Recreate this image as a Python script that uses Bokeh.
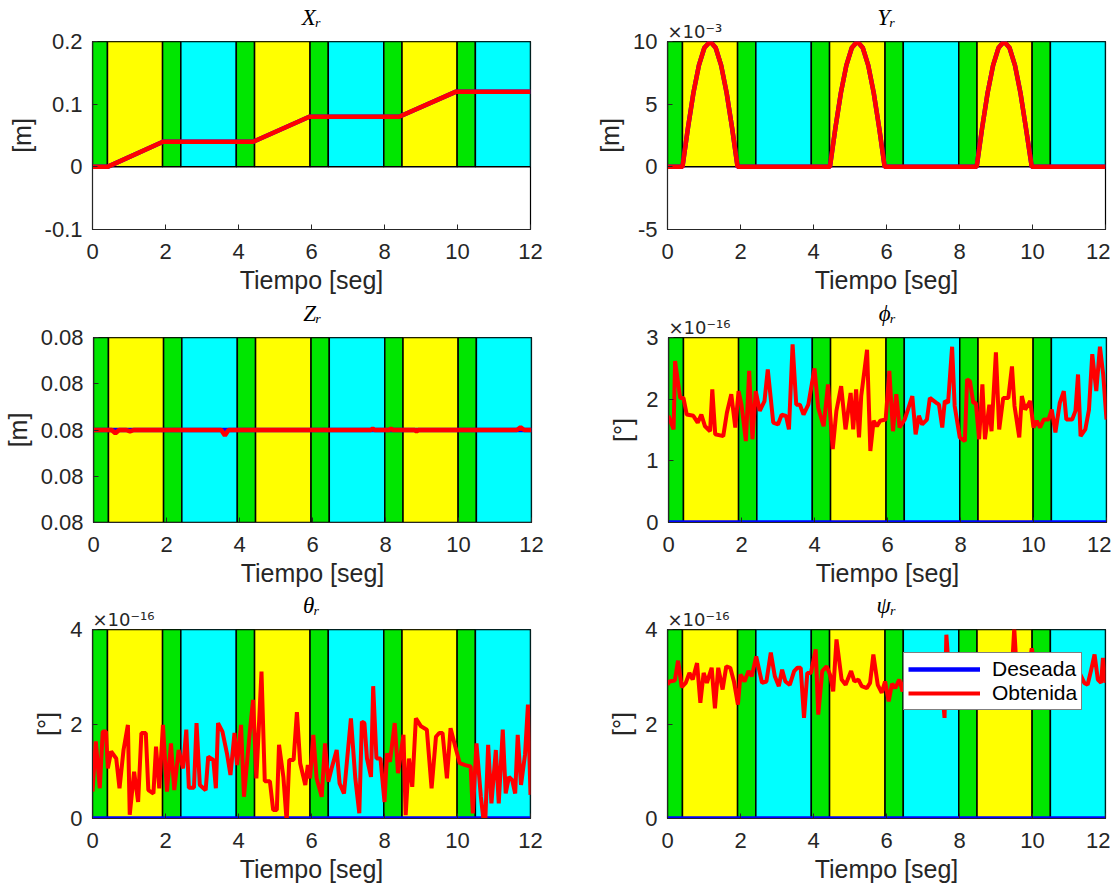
from bokeh.plotting import figure
from bokeh.layouts import column, row
from bokeh.models import Range1d, FixedTicker, Title, CustomJSTickFormatter
from bokeh.embed import file_html
from bokeh.resources import INLINE

# ---------------- data ----------------
band_edges = [0.0, 0.41, 1.92, 2.42, 3.94, 4.44, 5.96, 6.46, 7.98, 8.48, 9.99, 10.49, 12.0]
band_phase = ["g", "y", "g", "c", "g", "y", "g", "c", "g", "y", "g", "c"]
phase_color = {"g": "#00e600", "y": "#ffff00", "c": "#00ffff"}

des_t = [0.0, 12.0]
des_zero = [0.0, 0.0]

xr_t = [0.0, 0.41, 1.93, 4.40, 5.94, 8.40, 9.96, 12.0]
xr_v = [0.0, 0.0, 0.04, 0.04, 0.08, 0.08, 0.12, 0.12]

# Y_r in units of 1e-3 m
yr_t = [0.0, 0.41, 0.56, 0.71, 0.86, 1.01, 1.17, 1.32, 1.47, 1.62, 1.77, 1.92,
        4.45, 4.60, 4.75, 4.90, 5.05, 5.20, 5.35, 5.50, 5.65, 5.80, 5.95,
        8.47, 8.62, 8.77, 8.92, 9.07, 9.22, 9.37, 9.52, 9.67, 9.82, 9.98, 12.0]
yr_v = [0, 0, 3.1, 5.9, 8.1, 9.5, 10, 9.5, 8.1, 5.9, 3.1, 0,
        0, 3.1, 5.9, 8.1, 9.5, 10, 9.5, 8.1, 5.9, 3.1, 0,
        0, 3.1, 5.9, 8.1, 9.5, 10, 9.5, 8.1, 5.9, 3.1, 0, 0]

# Z_r deviation around 0.08 m, in tick steps
zr_t = [0, 0.5, 0.6, 0.7, 0.9, 1.0, 1.1, 3.5, 3.6, 3.7, 7.6, 7.65, 7.7, 8.1, 8.15, 8.2,
        8.8, 8.85, 8.9, 11.6, 11.7, 11.8, 12]
zr_v = [0, 0, -0.07, 0, 0, -0.03, 0, 0, -0.12, 0, 0, 0.03, 0, 0, 0.03, 0,
        0, -0.03, 0, 0, 0.06, 0, 0]

# phi_r in units of 1e-16 deg
phi_t = [0.0, 0.14, 0.18, 0.32, 0.41, 0.50, 0.68, 0.80, 0.90, 1.00, 1.14, 1.20, 1.28, 1.50, 1.60,
         1.72, 1.83, 1.92, 2.00, 2.12, 2.21, 2.30, 2.39, 2.50, 2.63, 2.72, 2.87, 3.00, 3.10, 3.22,
         3.30, 3.40, 3.50, 3.60, 3.70, 3.83, 4.00, 4.10, 4.25, 4.37, 4.50, 4.60, 4.73, 4.85, 4.99,
         5.06, 5.14, 5.22, 5.28, 5.44, 5.53, 5.62, 5.71, 5.80, 5.95, 6.05, 6.15, 6.24, 6.33, 6.47,
         6.68, 6.77, 6.86, 6.95, 7.08, 7.16, 7.34, 7.41, 7.50, 7.57, 7.66, 7.77, 7.84, 7.98, 8.12,
         8.18, 8.26, 8.35, 8.42, 8.51, 8.60, 8.67, 8.79, 8.85, 8.97, 9.06, 9.17, 9.31, 9.41, 9.48,
         9.61, 9.68, 9.77, 9.91, 10.00, 10.09, 10.18, 10.28, 10.41, 10.50, 10.60, 10.72, 10.83,
         10.90, 11.06, 11.15, 11.22, 11.29, 11.42, 11.52, 11.61, 11.72, 11.82, 11.91, 12.0]
phi_v = [1.73, 1.51, 2.62, 2.02, 2.02, 1.75, 1.73, 1.62, 1.75, 1.56, 1.48, 2.16, 1.43, 1.40, 1.78,
         2.08, 1.54, 2.13, 1.91, 1.32, 2.46, 1.35, 2.13, 1.81, 1.97, 2.48, 1.62, 1.59, 1.75, 1.73,
         1.51, 2.89, 1.91, 1.91, 1.75, 1.91, 2.50, 1.86, 1.56, 2.24, 1.19, 1.81, 2.21, 1.51, 2.10,
         1.51, 2.16, 1.38, 2.05, 2.80, 1.16, 1.65, 1.56, 1.65, 1.67, 2.46, 1.48, 2.08, 1.54, 1.67,
         2.05, 1.43, 1.73, 1.59, 1.67, 2.02, 1.94, 1.91, 1.54, 1.97, 1.94, 2.85, 1.89, 1.38, 1.32,
         2.32, 2.29, 1.94, 1.94, 1.35, 2.24, 1.35, 1.91, 1.48, 2.76, 1.51, 2.02, 2.02, 2.53, 1.89,
         1.38, 2.05, 1.83, 1.97, 1.54, 1.65, 1.54, 1.67, 1.67, 1.83, 1.46, 1.94, 2.13,
         1.67, 1.67, 1.81, 2.40, 1.40, 1.51, 1.83, 2.73, 2.13, 2.85, 2.40, 1.67]

# theta_r in units of 1e-16 deg
theta_t = [0.0, 0.09, 0.20, 0.28, 0.37, 0.42, 0.51, 0.65, 0.74, 0.85, 0.97, 1.02, 1.14, 1.25, 1.34,
           1.46, 1.53, 1.67, 1.74, 1.83, 1.93, 2.04, 2.15, 2.24, 2.36, 2.48, 2.57, 2.64, 2.78, 2.85,
           2.94, 3.10, 3.17, 3.31, 3.38, 3.44, 3.56, 3.69, 3.78, 3.89, 3.96, 4.07, 4.15, 4.31, 4.40,
           4.49, 4.63, 4.72, 4.86, 4.95, 5.05, 5.11, 5.23, 5.32, 5.39, 5.51, 5.60, 5.69, 5.83, 5.90,
           5.96, 6.05, 6.14, 6.28, 6.37, 6.46, 6.55, 6.69, 6.77, 6.89, 7.08, 7.20, 7.31, 7.38, 7.45,
           7.52, 7.63, 7.69, 7.78, 7.89, 8.00, 8.07, 8.15, 8.28, 8.37, 8.52, 8.58, 8.67, 8.76, 8.86,
           9.00, 9.16, 9.29, 9.41, 9.50, 9.59, 9.71, 9.81, 9.94, 10.06, 10.21, 10.36, 10.42, 10.52,
           10.64, 10.75, 10.84, 10.93, 11.05, 11.13, 11.24, 11.32, 11.41, 11.50, 11.58, 11.65, 11.74,
           11.85, 11.93, 12.0]
theta_v = [0.57, 1.63, 0.64, 1.84, 1.84, 1.06, 1.42, 1.27, 0.64, 1.45, 1.98, 0.08, 0.99, 0.35, 1.81,
           1.81, 0.60, 0.53, 1.52, 0.64, 1.98, 0.57, 1.59, 0.60, 1.45, 1.06, 1.88, 0.65, 0.65, 2.02,
           0.71, 0.60, 1.31, 1.24, 0.64, 2.02, 1.84, 1.35, 0.92, 1.81, 1.13, 1.98, 0.46, 1.84, 2.51,
           0.85, 3.11, 0.79, 0.79, 0.18, 0.18, 1.56, 0.88, -0.07, 1.24, 1.24, 2.25, 1.17, 0.71, 1.13,
           0.85, 1.77, 0.85, 0.46, 1.59, 0.78, 1.06, 1.45, 0.74, 0.53, 2.12, 0.85, 0.11, 2.05, 2.02,
           1.27, 0.88, 2.80, 1.27, 1.27, 0.35, 1.38, 1.20, 2.02, 0.96, 1.77, 0.07, 1.27, 0.67, 2.12,
           1.95, 1.88, 0.64, 1.73, 1.81, 1.81, 0.85, 1.91, 1.52, 1.17, 1.13, 1.10, 0.11, 1.59,
           0.46, -0.28, 1.56, 0.32, 1.45, 0.32, 1.88, 0.53, 0.88, 0.81, 0.53, 1.77, 0.71,
           1.35, 2.41, 0.50]

# psi_r in units of 1e-16 deg
psi_t = [0.0, 0.05, 0.20, 0.29, 0.39, 0.50, 0.60, 0.69, 0.81, 0.90, 0.99, 1.08, 1.21, 1.30, 1.39,
         1.51, 1.61, 1.72, 1.82, 1.93, 2.00, 2.11, 2.22, 2.31, 2.43, 2.59, 2.71, 2.83, 2.94, 3.05,
         3.14, 3.23, 3.35, 3.47, 3.56, 3.65, 3.74, 3.83, 3.93, 4.06, 4.13, 4.24, 4.36, 4.45, 4.54,
         4.63, 4.77, 4.88, 5.03, 5.12, 5.23, 5.32, 5.46, 5.55, 5.64, 5.76, 5.87, 5.96, 6.06, 6.15,
         6.24, 6.35, 6.44, 6.53, 6.62, 6.72, 6.81, 6.90, 7.00, 7.10, 7.20, 7.30, 7.40, 7.50, 7.59,
         7.64, 7.72, 7.82, 7.92, 8.02, 8.12, 8.22, 8.32, 8.42, 8.52, 8.62, 8.72, 8.82, 8.92, 9.02,
         9.12, 9.22, 9.32, 9.42, 9.50, 9.58, 9.68, 9.78, 9.88, 9.98, 10.08, 10.18, 10.28, 10.38,
         10.48, 10.58, 10.68, 10.78, 10.88, 10.98, 11.08, 11.18, 11.28, 11.42, 11.51, 11.60, 11.70,
         11.79, 11.88, 11.93, 12.0]
psi_v = [2.83, 2.90, 2.92, 3.34, 2.78, 2.87, 3.08, 2.94, 3.29, 2.45, 3.08, 2.87, 3.19, 2.33, 3.19,
         2.73, 3.22, 3.19, 2.90, 2.41, 3.05, 2.90, 3.12, 3.01, 3.43, 2.87, 2.90, 3.51, 3.01, 2.80,
         3.15, 2.90, 2.83, 3.12, 3.19, 3.19, 2.13, 3.08, 3.08, 3.58, 2.20, 3.12, 3.22, 3.05, 2.69,
         3.79, 2.94, 2.83, 3.12, 2.90, 2.94, 2.80, 2.76, 2.87, 3.47, 2.83, 2.66, 2.90, 2.48, 2.85,
         2.76, 2.94, 2.69, 3.05, 2.85, 3.10, 2.95, 3.15, 2.90, 3.05, 2.80, 3.10, 2.95, 3.00, 2.13,
         3.89, 3.00, 2.90, 3.10, 2.85, 3.05, 2.95, 3.15, 2.90, 3.00, 2.80, 3.10, 2.95, 3.05, 2.90,
         3.20, 2.95, 3.00, 2.90, 4.03, 2.95, 3.10, 2.85, 3.05, 3.60, 3.15, 2.90, 3.00, 2.85,
         3.10, 2.95, 3.05, 2.90, 3.10, 2.95, 3.05, 2.85, 3.10, 2.87, 2.83, 3.12, 3.47,
         2.94, 2.87, 3.40, 2.87]

x_ticks = [0, 2, 4, 6, 8, 10, 12]

# ---------------- layout params ----------------
FW = 438
COL = {0: dict(min_border_left=92, min_border_right=20),
       1: dict(min_border_left=117, min_border_right=5)}
ROW = {0: dict(min_border_top=41, min_border_bottom=72, frame_height=188),
       1: dict(min_border_top=36, min_border_bottom=71, frame_height=185),
       2: dict(min_border_top=36, min_border_bottom=69, frame_height=189)}

TICK_COLOR = "#262626"


def panel(title, ylabel, yrange, yticks, band_lo, band_hi, c, r, exponent=None, zfmt=False):
    p = figure(frame_width=FW, x_range=Range1d(0, 12), y_range=Range1d(*yrange),
               output_backend="svg", toolbar_location=None, title=None,
               background_fill_color="white", border_fill_color="white",
               **COL[c], **ROW[r])
    p.quad(left=band_edges[:-1], right=band_edges[1:], bottom=band_lo, top=band_hi,
           fill_color=[phase_color[k] for k in band_phase], line_color="black", line_width=1.5)
    p.xgrid.visible = False
    p.ygrid.visible = False
    p.outline_line_color = "black"
    p.outline_line_width = 1.2
    p.outline_line_alpha = 1

    # exponent (nearest the frame), then the main title above it
    p.add_layout(Title(text=exponent if exponent else "\u00a0", align="left",
                       text_font="DejaVu Sans", text_font_size="18px", text_font_style="normal",
                       text_color=TICK_COLOR, standoff=0), "above")
    p.add_layout(Title(text=title, align="center", text_font="Liberation Serif",
                       text_font_style="italic", text_font_size="23px", text_color="black",
                       standoff=-22), "above")

    for ax in (p.xaxis[0], p.yaxis[0]):
        ax.major_tick_in = 5
        ax.major_tick_out = 0
        ax.minor_tick_line_color = None
        ax.axis_line_color = TICK_COLOR
        ax.major_tick_line_color = TICK_COLOR
        ax.major_label_text_color = TICK_COLOR
        ax.major_label_text_font = "Liberation Sans"
        ax.major_label_text_font_size = "22px"
        ax.axis_label_text_font = "Liberation Sans"
        ax.axis_label_text_font_size = "25px"
        ax.axis_label_text_font_style = "normal"
        ax.axis_label_text_color = TICK_COLOR

    p.xaxis[0].ticker = FixedTicker(ticks=x_ticks)
    p.xaxis[0].formatter = CustomJSTickFormatter(code="return String(tick)")
    p.xaxis[0].axis_label = "Tiempo [seg]"
    p.xaxis[0].major_label_standoff = 14
    p.xaxis[0].axis_label_standoff = 4
    p.yaxis[0].ticker = FixedTicker(ticks=yticks)
    if zfmt:
        p.yaxis[0].formatter = CustomJSTickFormatter(code="return '0.08'")
    else:
        p.yaxis[0].formatter = CustomJSTickFormatter(code="return String(Math.round(tick*1000)/1000)")
    p.yaxis[0].axis_label = ylabel
    p.yaxis[0].major_label_standoff = 10
    p.yaxis[0].axis_label_standoff = 6
    return p


# X_r
p1 = panel("Xᵣ", "[m]", (-0.1, 0.2), [-0.1, 0, 0.1, 0.2], 0, 0.2, 0, 0)
p1.line(xr_t, xr_v, line_color="#0000ff", line_width=4.5)
p1.line(xr_t, xr_v, line_color="#ff0000", line_width=4.5)

# Y_r
p2 = panel("Yᵣ", "[m]", (-5, 10), [-5, 0, 5, 10], 0, 10, 1, 0, exponent="×10⁻³")
p2.line(yr_t, yr_v, line_color="#0000ff", line_width=4.5)
p2.line(yr_t, yr_v, line_color="#ff0000", line_width=4.5)

# Z_r
p3 = panel("Zᵣ", "[m]", (-2, 2), [-2, -1, 0, 1, 2], -2, 2, 0, 1, zfmt=True)
p3.line(des_t, des_zero, line_color="#0000ff", line_width=4.5)
p3.line(zr_t, zr_v, line_color="#ff0000", line_width=4.5)

# phi_r
p4 = panel("ϕᵣ", "[°]", (0, 3), [0, 1, 2, 3], 0, 3, 1, 1, exponent="×10⁻¹⁶")
p4.line(des_t, des_zero, line_color="#0000ff", line_width=4.5)
p4.line(phi_t, phi_v, line_color="#ff0000", line_width=4)

# theta_r
p5 = panel("θᵣ", "[°]", (0, 4), [0, 2, 4], 0, 4, 0, 2, exponent="×10⁻¹⁶")
p5.line(des_t, des_zero, line_color="#0000ff", line_width=4.5)
p5.line(theta_t, theta_v, line_color="#ff0000", line_width=4)

# psi_r
p6 = panel("ψᵣ", "[°]", (0, 4), [0, 2, 4], 0, 4, 1, 2, exponent="×10⁻¹⁶")
p6.line(des_t, des_zero, line_color="#0000ff", line_width=4.5, legend_label="Deseada")
p6.line(psi_t, psi_v, line_color="#ff0000", line_width=4, legend_label="Obtenida")
lg = p6.legend[0]
lg.location = (236, 108)
lg.glyph_width = 72
lg.glyph_height = 20
lg.label_text_font = "Liberation Sans"
lg.label_text_font_size = "21px"
lg.label_text_color = "black"
lg.label_height = 20
lg.label_standoff = 12
lg.padding = 4
lg.spacing = 0
lg.margin = 0
lg.border_line_color = "black"
lg.border_line_width = 1
lg.background_fill_color = "white"
lg.background_fill_alpha = 1

layout = column(row(p1, p2), row(p3, p4), row(p5, p6))

open("out.html", "w").write(file_html(layout, INLINE))
